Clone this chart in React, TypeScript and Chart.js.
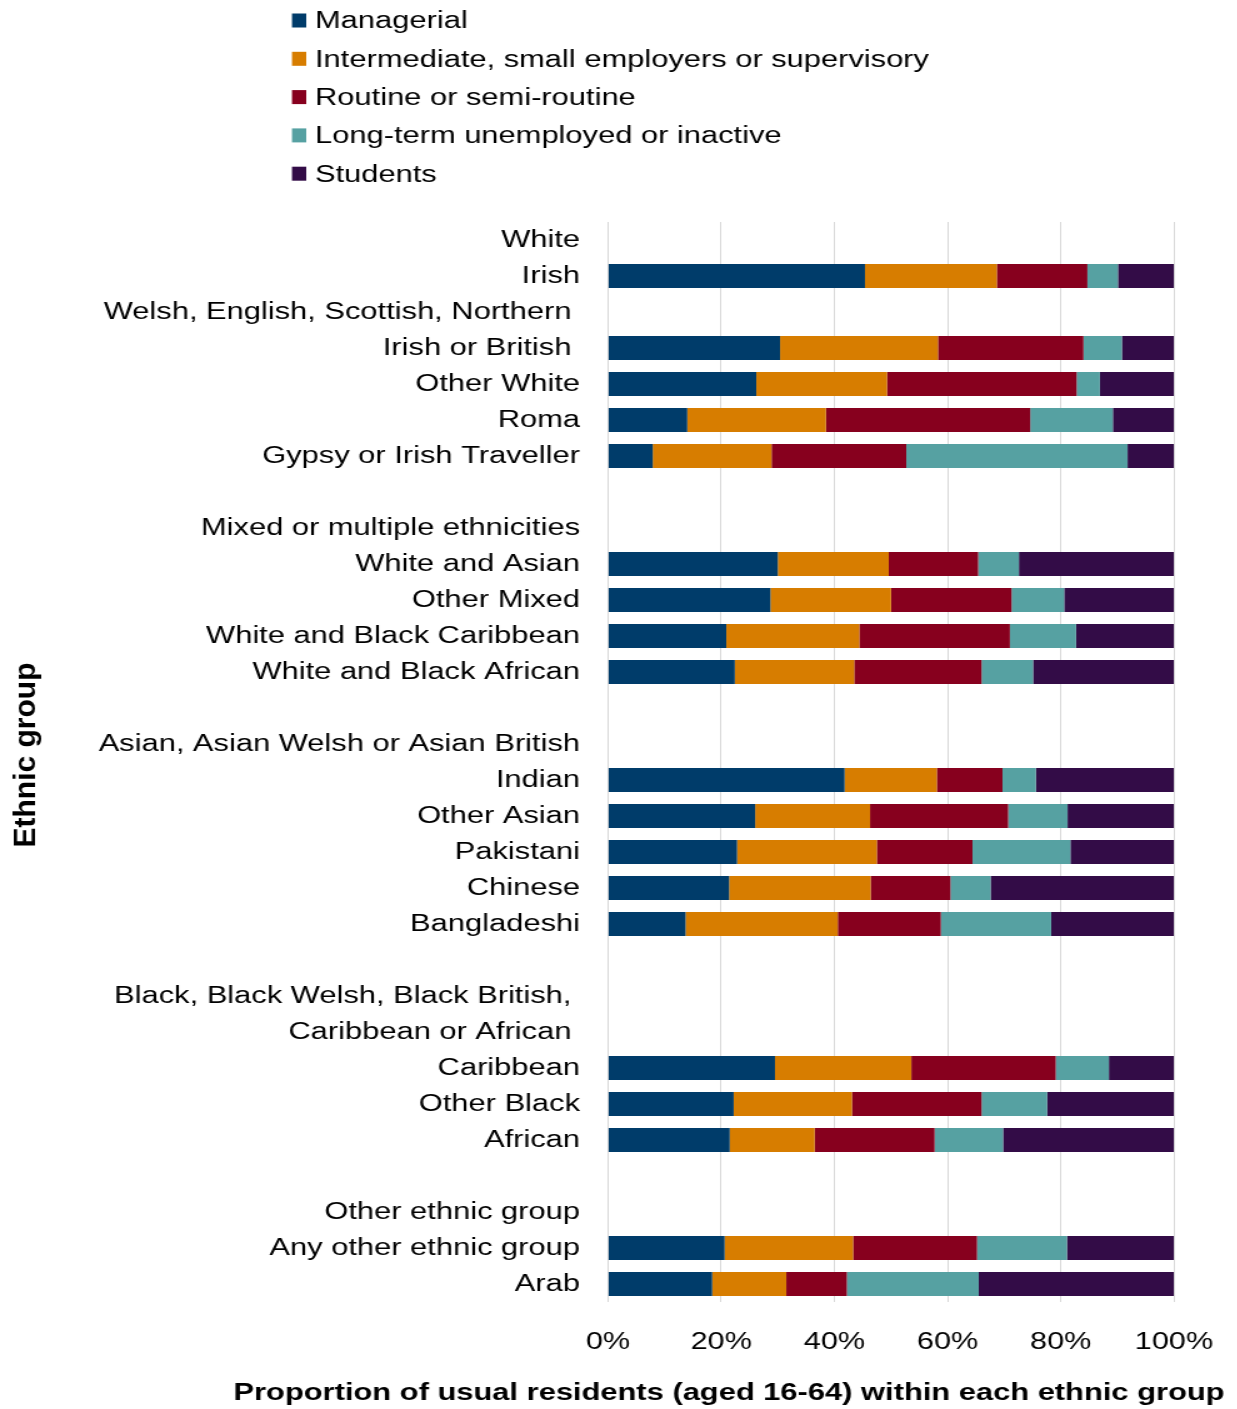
import React, { useEffect, useRef } from "react";
import { Chart, registerables } from "chart.js";

Chart.register(...registerables);

// ---- Data ----
const categories: string[] = [
  "White",
  "Irish",
  "Welsh, English, Scottish, Northern ",
  "Irish or British ",
  "Other White",
  "Roma",
  "Gypsy or Irish Traveller",
  "",
  "Mixed or multiple ethnicities",
  "White and Asian",
  "Other Mixed",
  "White and Black Caribbean",
  "White and Black African",
  "",
  "Asian, Asian Welsh or Asian British",
  "Indian",
  "Other Asian",
  "Pakistani",
  "Chinese",
  "Bangladeshi",
  "",
  "Black, Black Welsh, Black British, ",
  "Caribbean or African ",
  "Caribbean",
  "Other Black",
  "African",
  "",
  "Other ethnic group",
  "Any other ethnic group",
  "Arab",
];

const seriesNames: string[] = [
  "Managerial",
  "Intermediate, small employers or supervisory",
  "Routine or semi-routine",
  "Long-term unemployed or inactive",
  "Students",
];

const managerial = [null, 45.4, null, 30.4, 26.2, 14.0, 7.9, null, null, 30.0, 28.7, 20.9, 22.4, null, null, 41.8, 26.0, 22.8, 21.4, 13.7, null, null, null, 29.5, 22.2, 21.5, null, null, 20.6, 18.4];
const intermediate = [null, 23.3, null, 27.9, 23.1, 24.5, 21.0, null, null, 19.6, 21.3, 23.5, 21.1, null, null, 16.3, 20.3, 24.7, 25.0, 26.9, null, null, null, 24.1, 20.9, 15.0, null, null, 22.7, 13.1];
const routine = [null, 16.0, null, 25.7, 33.5, 36.1, 23.8, null, null, 15.8, 21.3, 26.6, 22.5, null, null, 11.6, 24.4, 16.9, 14.1, 18.2, null, null, null, 25.5, 22.9, 21.2, null, null, 21.9, 10.7];
const unemployed = [null, 5.4, null, 6.8, 4.1, 14.6, 39.1, null, null, 7.2, 9.3, 11.7, 9.1, null, null, 5.9, 10.5, 17.3, 7.1, 19.5, null, null, null, 9.4, 11.6, 12.1, null, null, 15.9, 23.3];
const students = [null, 9.9, null, 9.2, 13.1, 10.8, 8.2, null, null, 27.4, 19.4, 17.3, 24.9, null, null, 24.4, 18.8, 18.3, 32.4, 21.7, null, null, null, 11.5, 22.4, 30.2, null, null, 18.9, 34.5];

const seriesColors: string[] = ["#003C6A", "#D77D00", "#87001E", "#56A1A2", "#330C47"];

const xTicks: number[] = [0, 20, 40, 60, 80, 100];
const xTitle = "Proportion of usual residents (aged 16-64) within each ethnic group";
const yTitle = "Ethnic group";

// ---- Layout (canvas drawn narrow, stretched horizontally like the reference) ----
const STRETCH = 1.25;
const CANVAS_W = 990;
const CANVAS_H = 1409;
const FONT = '"Liberation Sans", Arial, Helvetica, sans-serif';

const extrasPlugin = {
  id: "extras",
  afterDraw(chart: any) {
    const ctx: CanvasRenderingContext2D = chart.ctx;
    ctx.save();
    // Legend (vertical list)
    ctx.font = `24.7px ${FONT}`;
    ctx.textBaseline = "middle";
    ctx.textAlign = "left";
    chart.data.datasets.forEach((ds: any, i: number) => {
      const y = 20.5 + i * 38.3;
      ctx.fillStyle = ds.backgroundColor;
      ctx.fillRect(233.6, y - 7, 11.4, 14);
      ctx.fillStyle = "#000";
      ctx.fillText(ds.label, 252, y + 1);
    });
    // X axis title
    ctx.font = `bold 24.7px ${FONT}`;
    ctx.textAlign = "center";
    ctx.fillStyle = "#000";
    ctx.fillText(xTitle, 583.2, 1393.5);
    // Y axis title (counter-stretched)
    ctx.translate(21.6, 755);
    ctx.scale(1 / STRETCH, 1);
    ctx.rotate(-Math.PI / 2);
    ctx.font = `bold 30px ${FONT}`;
    ctx.textAlign = "center";
    ctx.textBaseline = "middle";
    ctx.fillText(yTitle, 0, 0);
    ctx.restore();
  },
};

export default function App() {
  const ref = useRef<HTMLCanvasElement>(null);

  useEffect(() => {
    if (!ref.current) return;
    const values = [managerial, intermediate, routine, unemployed, students];
    const chart = new Chart(ref.current, {
      type: "bar",
      data: {
        labels: categories,
        datasets: seriesNames.map((name, i) => ({
          label: name,
          data: values[i] as any,
          backgroundColor: seriesColors[i],
          borderWidth: 0,
          categoryPercentage: 1,
          barPercentage: 0.667,
        })),
      },
      options: {
        indexAxis: "y",
        responsive: false,
        animation: false,
        devicePixelRatio: 1,
        layout: { padding: { top: 222, left: 0, right: 50.8, bottom: 0 } },
        plugins: {
          legend: { display: false },
          tooltip: { enabled: false },
        },
        scales: {
          x: {
            stacked: true,
            min: 0,
            max: 100,
            position: "bottom",
            afterBuildTicks: (scale: any) => {
              scale.ticks = xTicks.map((v) => ({ value: v }));
            },
            ticks: {
              callback: (v: any) => `${v}%`,
              padding: 26,
              color: "#000",
              font: { family: FONT, size: 24.5 },
              maxRotation: 0,
              autoSkip: false,
            },
            grid: { color: "#D9D9D9", lineWidth: 1, drawTicks: false },
            border: { display: false },
            afterFit: (scale: any) => {
              scale.height = 107;
              scale.paddingLeft = 0;
              scale.paddingRight = 0;
            },
          },
          y: {
            stacked: true,
            ticks: {
              autoSkip: false,
              padding: 22.4,
              color: "#000",
              font: { family: FONT, size: 24.7 },
            },
            grid: { display: false, drawTicks: false },
            border: { display: false },
            afterFit: (scale: any) => {
              scale.width = 486.4;
            },
          },
        },
      },
      plugins: [extrasPlugin],
    } as any);
    return () => chart.destroy();
  }, []);

  return (
    <div
      style={{
        position: "absolute",
        left: 0,
        top: 0,
        width: 1237,
        height: 1409,
        overflow: "hidden",
        background: "#fff",
      }}
    >
      <div
        style={{
          width: CANVAS_W,
          height: CANVAS_H,
          transform: `scaleX(${STRETCH})`,
          transformOrigin: "0 0",
        }}
      >
        <canvas ref={ref} width={CANVAS_W} height={CANVAS_H} style={{ display: "block" }} />
      </div>
    </div>
  );
}
